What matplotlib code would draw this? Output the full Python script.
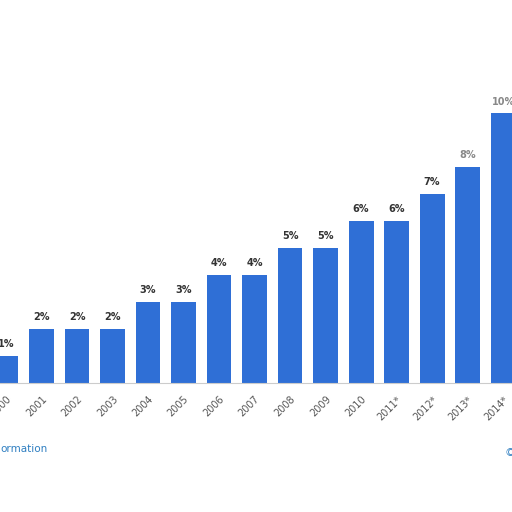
import matplotlib.pyplot as plt
import numpy as np

# ================= Data =================
years = ['2000', '2001', '2002', '2003', '2004', '2005', '2006', '2007',
         '2008', '2009', '2010', '2011*', '2012*', '2013*', '2014*']
values = [1, 2, 2, 2, 3, 3, 4, 4, 5, 5, 6, 6, 7, 8, 10]
labels = [f"{v}%" for v in values]

# ================= Plot =================
fig = plt.figure(figsize=(5.12, 5.12), dpi=100)
ax = fig.add_axes([0, 0.252, 1, 0.748])

x = np.arange(len(years))
ax.bar(x, values, width=0.7, color='#2f6fd6', zorder=2)

for xi, v, lab in zip(x, values, labels):
    col = '#888888' if xi >= 13 else '#333333'
    ax.text(xi, v + 0.25, lab, ha='center', va='bottom', fontsize=7,
            fontweight='bold', color=col)

ax.set_xlim(-0.169, 14.25)
ax.set_ylim(0, 14.2)
ax.set_xticks(x)
ax.set_xticklabels(years, rotation=45, ha='right', rotation_mode='anchor',
                   fontsize=7, color='#555555')
ax.tick_params(axis='x', length=0, pad=8)
ax.set_yticks([])
for s in ['top', 'right', 'left']:
    ax.spines[s].set_visible(False)
ax.spines['bottom'].set_color('#cccccc')

fig.text(0.0, 0.118, 'ormation', fontsize=7.5, color='#2f7fc1', ha='left')
fig.text(0.985, 0.11, '©', fontsize=8, color='#2f7fc1', ha='left')

fig.savefig('out.png', dpi=100)
